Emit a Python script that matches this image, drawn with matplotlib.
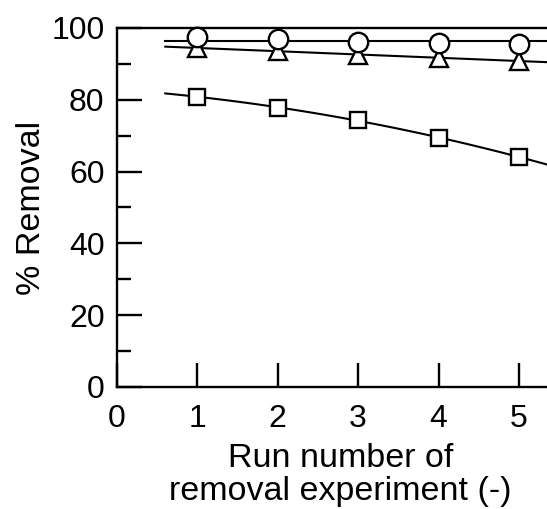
import numpy as np
import matplotlib.pyplot as plt
from matplotlib.ticker import MultipleLocator

plt.rcParams['font.family'] = ['Liberation Sans', 'DejaVu Sans']

runs = [1, 2, 3, 4, 5]
circles = [97.5, 96.9, 96.2, 95.8, 95.5]
triangles = [94.4, 93.7, 92.5, 91.6, 90.9]
squares = [80.9, 77.7, 74.4, 69.4, 64.1]

fig = plt.figure(figsize=(5.47, 5.09), dpi=100)
ax = fig.add_axes([0.214, 0.2397, 0.786, 0.7053])

# fitted trend lines
xfit = np.linspace(0.6, 5.5, 100)
for vals, deg in [(circles, 0), (triangles, 1), (squares, 2)]:
    p = np.polyfit(runs, vals, deg)
    ax.plot(xfit, np.polyval(p, xfit), color='black', lw=1.5, zorder=2)

mk = dict(color='black', lw=0, mfc='white', mec='black', mew=1.7, zorder=3, clip_on=False)
ax.plot(runs, squares, marker='s', ms=12, **mk)
ax.plot(runs, triangles, marker='^', ms=13, **mk)
ax.plot(runs, circles, marker='o', ms=14, **mk)

ax.set_xlim(0, 5.35)
ax.set_ylim(0, 100)
ax.xaxis.set_major_locator(MultipleLocator(1))
ax.yaxis.set_major_locator(MultipleLocator(20))
ax.yaxis.set_minor_locator(MultipleLocator(10))
ax.tick_params(axis='both', which='both', direction='in', width=1.7, labelsize=23)
ax.tick_params(axis='x', which='major', length=17, pad=12)
ax.tick_params(axis='y', which='major', length=18, pad=9)
ax.tick_params(axis='y', which='minor', length=10)
ax.tick_params(top=False, right=False)
ax.spines['right'].set_visible(False)
for s in ['left', 'bottom', 'top']:
    ax.spines[s].set_linewidth(1.7)

ax.set_ylabel('% Removal', fontsize=24.5, labelpad=3)
ax.set_xlabel('Run number of\nremoval experiment (-)', fontsize=24.5, labelpad=7, linespacing=1.08)
ax.xaxis.label.set_x(0.519)

fig.savefig('out.png', dpi=100)
